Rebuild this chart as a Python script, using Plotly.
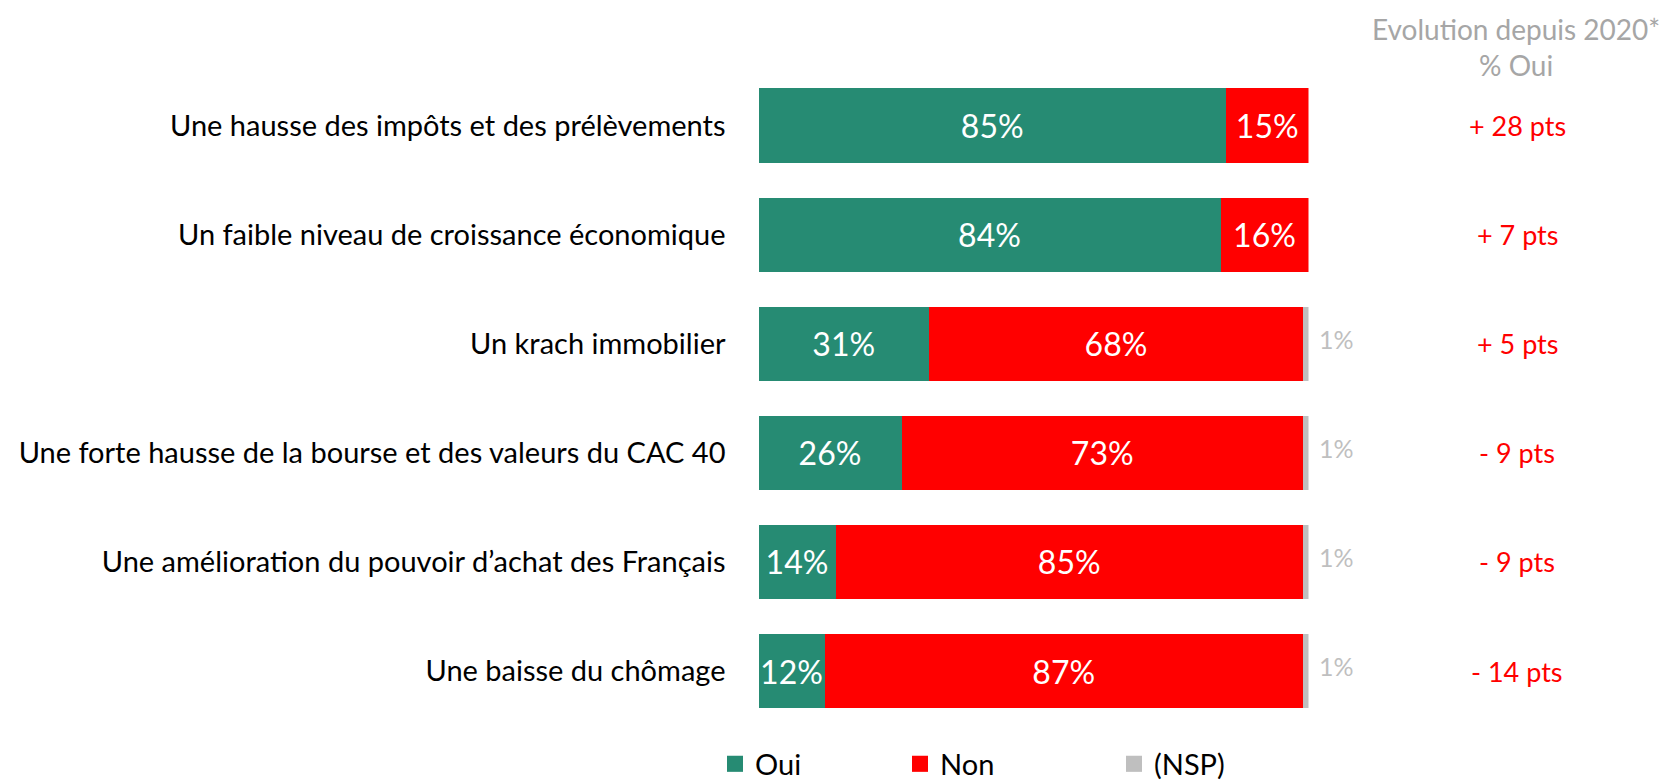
import plotly.graph_objects as go

categories = [
    "Une hausse des impôts et des prélèvements",
    "Un faible niveau de croissance économique",
    "Un krach immobilier",
    "Une forte hausse de la bourse et des valeurs du CAC 40",
    "Une amélioration du pouvoir d’achat des Français",
    "Une baisse du chômage",
]
oui = [85, 84, 31, 26, 14, 12]
non = [15, 16, 68, 73, 85, 87]
nsp = [0, 0, 1, 1, 1, 1]
evolution = ["+ 28 pts", "+ 7 pts", "+ 5 pts", "- 9 pts", "- 9 pts", "- 14 pts"]

GREEN = "#268B73"
RED = "#FF0000"
GREY = "#BFBFBF"
FONT = "Lato"

W, H = 1668, 784

fig = go.Figure()

fig.add_trace(go.Bar(
    y=categories, x=oui, name="Oui", orientation="h", showlegend=False,
    marker=dict(color=GREEN, line=dict(width=0)),
    text=[f"{v}%" for v in oui], textposition="inside", insidetextanchor="middle",
    textangle=0, constraintext="none",
    textfont=dict(color="white", size=32, family=FONT),
))
fig.add_trace(go.Bar(
    y=categories, x=non, name="Non", orientation="h", showlegend=False,
    marker=dict(color=RED, line=dict(width=0)),
    text=[f"{v}%" for v in non], textposition="inside", insidetextanchor="middle",
    textangle=0, constraintext="none",
    textfont=dict(color="white", size=32, family=FONT),
))
fig.add_trace(go.Bar(
    y=categories, x=nsp, name="(NSP)", orientation="h", showlegend=False,
    marker=dict(color=GREY, line=dict(width=0)),
))

# etiquettes NSP a droite des barres
for cat, o, n, s in zip(categories, oui, non, nsp):
    if s:
        fig.add_annotation(
            x=o + n + s, y=cat, text=f"{s}%", showarrow=False,
            xanchor="left", xshift=8, yshift=5,
            font=dict(color=GREY, size=25, family=FONT),
        )

# colonne evolution depuis 2020
for cat, evo in zip(categories, evolution):
    fig.add_annotation(
        x=1517 / W, xref="paper", xanchor="center", y=cat, yref="y",
        text=evo, showarrow=False,
        font=dict(color=RED, size=27, family=FONT),
    )

fig.add_annotation(
    x=1516 / W, xref="paper", xanchor="center", y=1 - 47.5 / H, yref="paper", yanchor="middle",
    text="Evolution depuis 2020*<br>% Oui", showarrow=False,
    font=dict(color="#A6A6A6", size=28, family=FONT),
    align="center",
)

# legende : trois legendes placees separement
legend_items = [("Oui", GREEN, "legend", 715), ("Non", RED, "legend2", 900), ("(NSP)", GREY, "legend3", 1114)]
legend_cfg = {}
for name, color, lg, lx in legend_items:
    fig.add_trace(go.Scatter(
        x=[None], y=[None], mode="markers", name=name, legend=lg,
        marker=dict(symbol="square", size=18, color=color),
    ))
    legend_cfg[lg] = dict(
        orientation="h", x=lx / W, xanchor="left", y=1 - 764 / H, yanchor="middle",
        font=dict(size=29, family=FONT, color="#000000"), bgcolor="rgba(0,0,0,0)",
    )

fig.update_layout(
    width=W, height=H,
    barmode="stack", bargap=0.32,
    margin=dict(l=0, r=0, t=0, b=0, autoexpand=False),
    paper_bgcolor="white", plot_bgcolor="white",
    font=dict(family=FONT, color="#000000"),
    xaxis=dict(range=[0, 100], domain=[758.5 / W, 1308.5 / W], visible=False),
    yaxis=dict(
        domain=[1 - 725.6 / H, 1 - 71 / H], autorange="reversed",
        showgrid=False, zeroline=False, showline=False, ticks="",
        ticklabelstandoff=32, tickfont=dict(size=29, family=FONT, color="#000000"),
    ),
    showlegend=True,
    **legend_cfg,
)

# pas de marge de page autour du graphique
fig.write_html(
    "out.html",
    config={"displayModeBar": False},
    post_script="document.body.style.margin='0px';document.body.style.overflow='hidden';",
)
